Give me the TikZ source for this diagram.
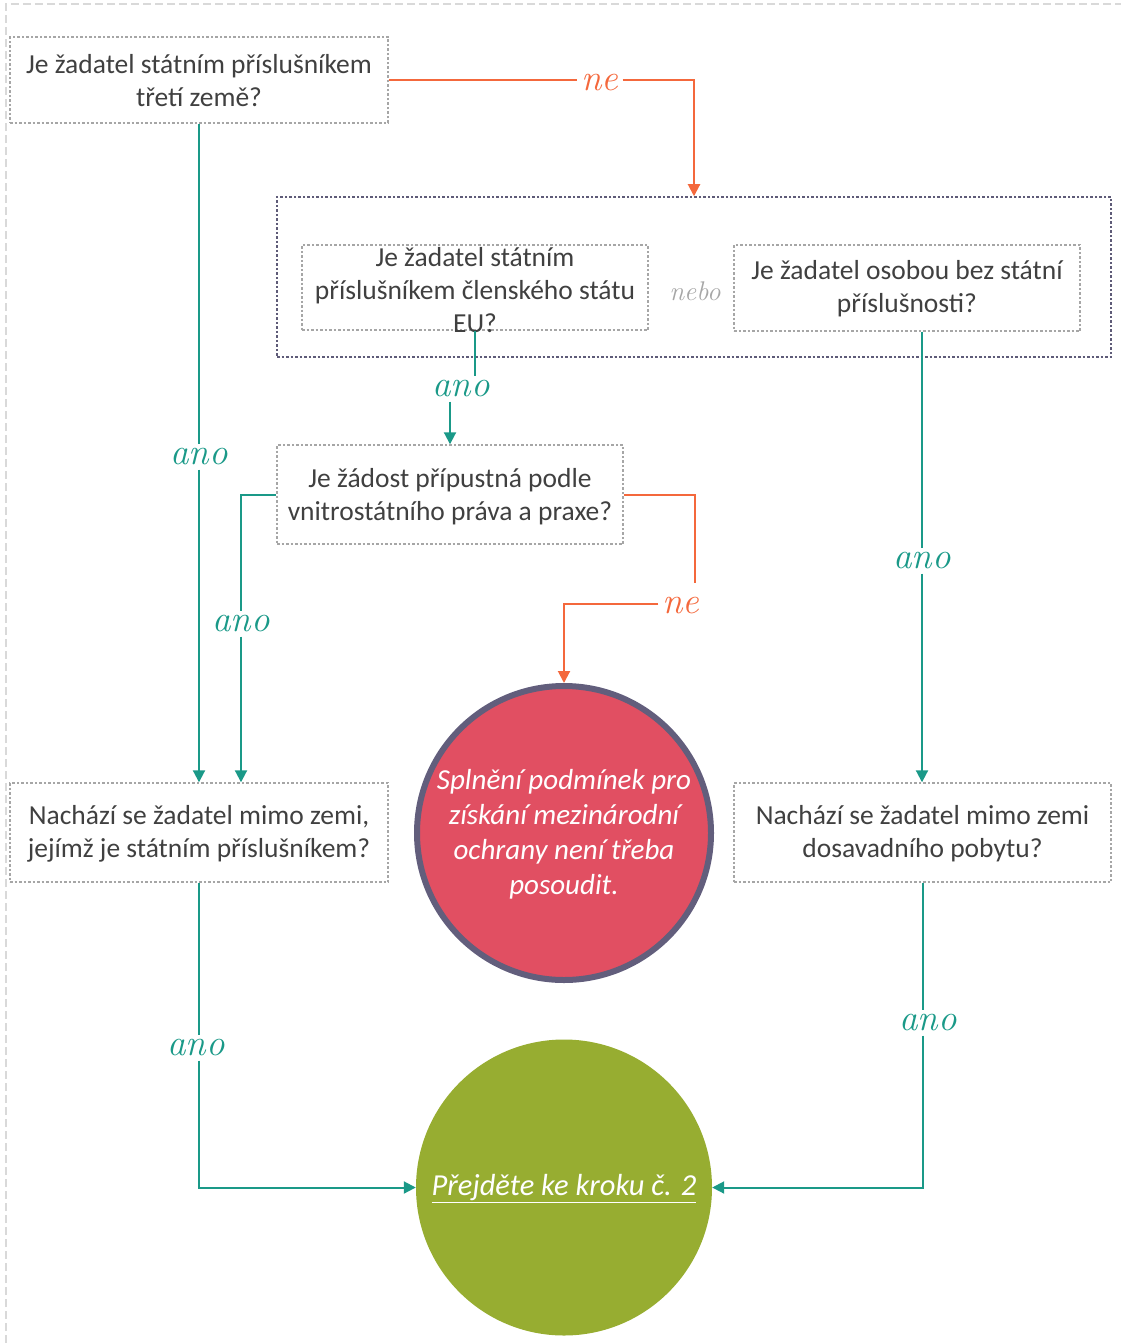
\documentclass[tikz,border=0pt]{standalone}
\usepackage{fontspec}
\setmainfont{Carlito}
\newfontfamily\hand{Latin Modern Roman}
\usetikzlibrary{arrows.meta}
\definecolor{teal1}{HTML}{1A9988}
\definecolor{orng}{HTML}{F4683C}
\definecolor{boxg}{HTML}{A6A6A6}
\definecolor{bigb}{HTML}{5E5B78}
\definecolor{txtg}{HTML}{404040}
\definecolor{redf}{HTML}{E14F62}
\definecolor{redb}{HTML}{625E7C}
\definecolor{grnf}{HTML}{97AD31}
\definecolor{outerg}{HTML}{D9D9D9}
\tikzset{
  qbox/.style={draw=boxg, line width=1.4pt, dash pattern=on 2.5pt off 2pt, minimum width=#1, inner sep=0pt},
  qtext/.style={text=txtg, align=center, font=\fontsize{27.5}{33}\selectfont, inner sep=0pt},
  tline/.style={draw=teal1, line width=2pt},
  oline/.style={draw=orng, line width=2pt},
  tip/.style={-{Triangle[width=12pt,length=12pt]}},
  anolbl/.style={text=teal1, font=\hand\itshape\fontsize{37}{37}\selectfont, inner sep=4pt},
  nelbl/.style={text=orng, font=\hand\itshape\fontsize{37}{37}\selectfont, inner sep=4pt},
}
\begin{document}
\begin{tikzpicture}[x=1pt,y=-1pt]
\useasboundingbox (0,0) rectangle (1121,1343);
% outer frame
\draw[outerg, line width=2pt, dash pattern=on 8pt off 4pt] (6,1343) -- (6,4) -- (1121,4);

% boxes
\node[qbox=378pt, minimum height=86pt] (b1) at (199,80) {};
\node[qtext] (t1) at (199,81) {Je žadatel státním příslušníkem\\třetí země?};

\node[draw=bigb, line width=1.5pt, dash pattern=on 2.5pt off 2pt, minimum width=834pt, minimum height=160pt, inner sep=0pt] (big) at (694,277) {};

\node[qbox=346pt, minimum height=85pt] (eu) at (475,287.5) {};
\node[qtext] (teu) at (475,290) {Je žadatel státním\\příslušníkem členského státu\\EU?};

\node[text=boxg, font=\hand\itshape\fontsize{27}{27}\selectfont, inner sep=2pt] (nebo) at (695,291) {nebo};

\node[qbox=346pt, minimum height=86pt] (sl) at (907,288) {};
\node[qtext] (tsl) at (907,289) {Je žadatel osobou bez státní\\příslušnosti?};

\node[qbox=346pt, minimum height=99pt] (b3) at (450,494.5) {};
\node[qtext] (t3) at (450,497) {Je žádost přípustná podle\\vnitrostátního práva a praxe?};

\node[qbox=378pt, minimum height=99pt] (b4) at (199,832.5) {};
\node[qtext] (t4) at (199,834) {Nachází se žadatel mimo zemi,\\jejímž je státním příslušníkem?};

\node[qbox=377pt, minimum height=99pt] (b5) at (922.5,832.5) {};
\node[qtext] (t5) at (922.5,834) {Nachází se žadatel mimo zemi\\dosavadního pobytu?};

% circles
\node[circle, fill=redf, draw=redb, line width=6pt, minimum size=294pt, inner sep=0pt] (red) at (564,833) {};
\node[text=white, align=center, font=\itshape\fontsize{29}{35}\selectfont, inner sep=0pt] (tred) at (564,834) {Splnění podmínek pro\\získání mezinárodní\\ochrany není třeba\\posoudit.};

\node[circle, fill=grnf, minimum size=296pt, inner sep=0pt] (grn) at (564,1187.5) {};
\node[text=white, font=\itshape\fontsize{30.5}{34}\selectfont, inner sep=0pt] (tgrn) at (564,1189) {\underline{Přejděte ke kroku č. 2}};

% labels
\node[nelbl] (ne1) at (600,83) {ne};
\node[anolbl] (a1) at (199,457) {ano};
\node[anolbl] (a2) at (461,389) {ano};
\node[anolbl] (a3) at (241,624) {ano};
\node[nelbl] (ne2) at (681,606) {ne};
\node[anolbl] (a4) at (922,561) {ano};
\node[anolbl] (a5) at (196,1048) {ano};
\node[anolbl] (a6) at (928,1023) {ano};
\coordinate (c1) at (695,583);

% connectors
\draw[oline] (b1.east) -- (ne1.west |- b1.east);
\draw[oline, tip] (ne1.east |- b1.east) -| (big.north);

\draw[tline] (b1.south) -- (b1.south |- a1.north);
\draw[tline, tip] (b1.south |- a1.south) -- (b1.south |- b4.north);

\draw[tline] (eu.south) -- (eu.south |- a2.north);
\draw[tline, tip] (a2.south -| b3.north) -- (b3.north);

\draw[tline] (b3.west) -| (a3.north);
\draw[tline, tip] (a3.south) -- (a3.south |- b4.north);

\draw[oline] (b3.east) -| (c1);
\draw[oline, tip] (ne2.west |- 0,604) -| (red.north);

\draw[tline] (a4.north |- sl.south) -- (a4.north);
\draw[tline, tip] (a4.south) -- (a4.south |- b5.north);

\draw[tline] (b4.south) -- (b4.south |- a5.north);
\draw[tline, tip] (b4.south |- a5.south) |- (grn.west);

\draw[tline] (b5.south) -- (b5.south |- a6.north);
\draw[tline, tip] (b5.south |- a6.south) |- (grn.east);
\end{tikzpicture}
\end{document}
